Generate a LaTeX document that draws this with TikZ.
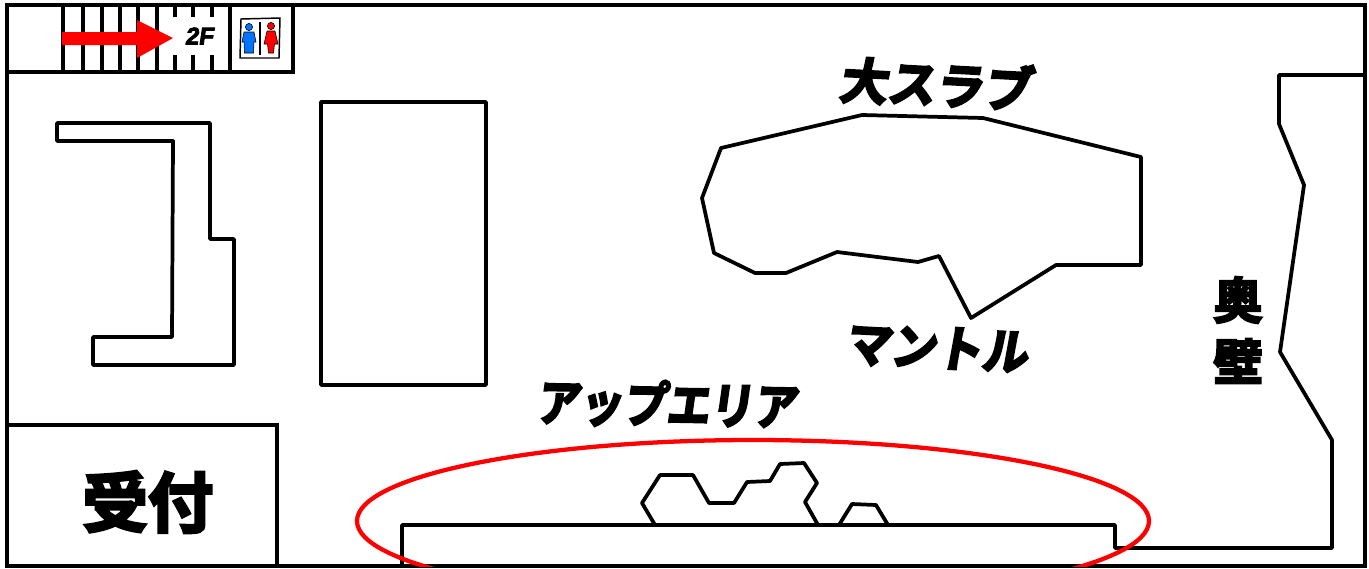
\documentclass[tikz,border=0pt]{standalone}
\usepackage{fontspec}
\newfontfamily\cjk[FakeBold=5,FakeSlant=0.14]{Noto Sans CJK JP Bold}
\newfontfamily\cjkup[FakeBold=4.5]{Noto Sans CJK JP Bold}
\newfontfamily\latinb[FakeBold=3.5,FakeSlant=0.15]{Liberation Sans Bold}
\begin{document}
\begin{tikzpicture}[x=0.75pt,y=-0.75pt,
  wall/.style={draw=black,line width=2.8pt,line join=round,line cap=round},
  frame/.style={draw=black,line width=3.1pt,line cap=rect},
  stair/.style={draw=black,line width=3pt},
  lab/.style={inner sep=0pt,text=black}]
\useasboundingbox (0,0) rectangle (1369,568);
\fill[white] (0,0) rectangle (1369,568);
% outer frame
\draw[frame] (7,5) rectangle (1365,566);
\draw[frame] (7,72) -- (293,72);
\draw[frame] (293,5) -- (293,72);
\draw[frame] (7,425) -- (277,425) -- (277,566);
% stairs
\foreach \x in {63,83,102,120,138,157,230}
  \draw[stair] (\x,5) -- (\x,72);
\foreach \x in {175,193,212}{
  \draw[stair] (\x,5) -- (\x,17);
  \draw[stair] (\x,55) -- (\x,72);}
% arrow
\fill[red] (62,32) -- (137,32) -- (137,20) -- (173,38) -- (137,58) -- (137,45) -- (62,45) -- cycle;
\node[lab,font=\latinb\fontsize{18}{18}\selectfont] (twof) at (199,36) {2F};
% WC icon
\draw[line width=1.1pt,fill=white] (241,19) -- (280,18) -- (279,58) -- (240,58) -- cycle;
\draw[line width=0.9pt] (260,22) -- (260,55);
\fill[blue!55!cyan,draw=black,line width=0.4pt] (249,27) circle (3.6);
\fill[blue!55!cyan,draw=black,line width=0.4pt] (244,32) -- (254,32) -- (256,42) -- (254,42) -- (253.5,53) -- (244.5,53) -- (244,42) -- (242,42) -- cycle;
\fill[red,draw=black,line width=0.4pt] (271,26) circle (3.6);
\fill[red,draw=black,line width=0.4pt] (267,31) -- (275,31) -- (278,44) -- (274.5,44) -- (273.5,53) -- (268.5,53) -- (267.5,44) -- (264,44) -- cycle;
% left shape
\draw[wall] (173,141) -- (57,141) -- (57,123) -- (210,123) -- (210,239) -- (234,239) -- (234,365) -- (93,365) -- (93,337) -- (172,337) -- cycle;
% rectangle
\draw[wall] (321,102) rectangle (486,385);
% big slab
\draw[wall] (721,148) -- (862,115) -- (983,118) -- (1141,157) -- (1141,265) -- (1056,265) -- (971,318) -- (939,256) -- (918,262) -- (837,252) -- (786,273) -- (755,273) -- (714,253) -- (702,198) -- cycle;
% back wall
\draw[wall] (1365,75) -- (1279,75) -- (1279,124) -- (1304,185) -- (1280,352) -- (1332,440) -- (1332,548) -- (1115,548) -- (1115,525) -- (402,525) -- (402,566);
% up area holds
\draw[wall] (655,525) -- (642,503) -- (660,475) -- (693,475) -- (709,503) -- (734,503) -- (747,482) -- (770,481) -- (780,464) -- (804,463) -- (817,483) -- (805,502) -- (818,525);
\draw[wall] (839,525) -- (852,504) -- (876,505) -- (888,525);
% red ellipse
\begin{scope}
\clip (7,5) rectangle (1365,566);
\draw[red,line width=3.2pt] (753,521) ellipse [x radius=396,y radius=81];
\end{scope}
% labels
\node[lab,font=\cjk\fontsize{37}{37}\selectfont,rotate=-3,xscale=.97] (slab) at (935,84) {大スラブ};
\node[lab,font=\cjk\fontsize{37}{37}\selectfont,rotate=-3,xscale=.93] (mantle) at (936,348) {マントル};
\node[lab,font=\cjk\fontsize{37}{37}\selectfont,rotate=-1,xscale=.88] (up) at (666,404) {アップエリア};
\node[lab,font=\cjkup\fontsize{37}{37}\selectfont] (oku) at (1238,300) {奥};
\node[lab,font=\cjkup\fontsize{37}{37}\selectfont] (kabe) at (1238,361) {壁};
\node[lab,font=\cjkup\fontsize{49}{49}\selectfont] (uke) at (148,502) {受付};
\end{tikzpicture}
\end{document}
